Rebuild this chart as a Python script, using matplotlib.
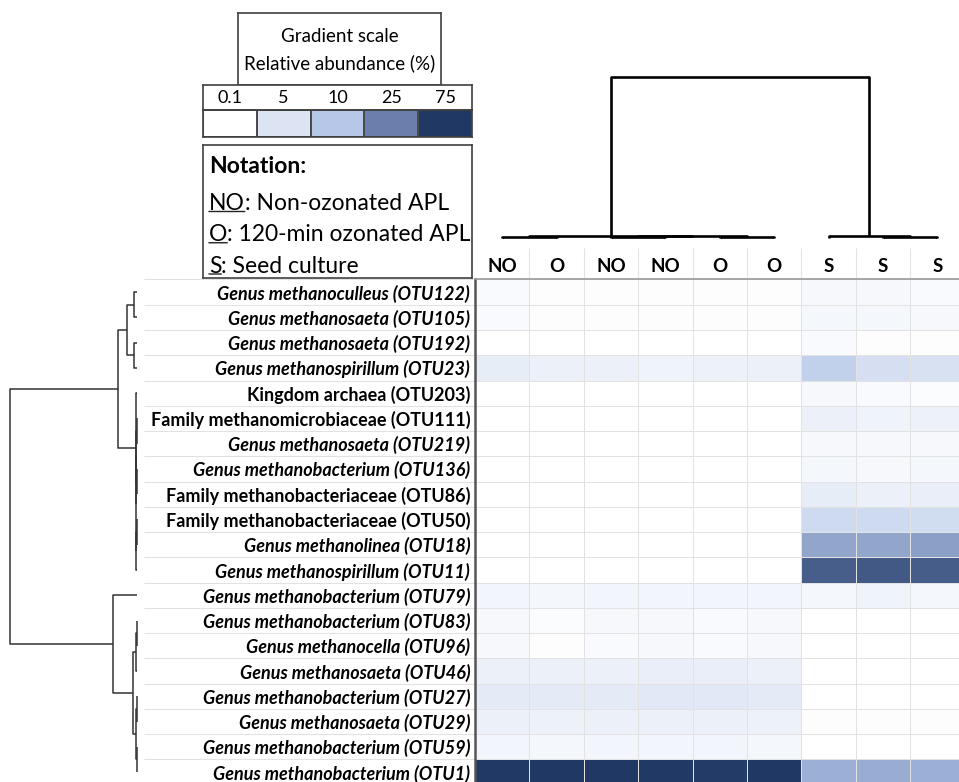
import numpy as np
import matplotlib
matplotlib.use("Agg")
import matplotlib.pyplot as plt
from matplotlib.colors import LinearSegmentedColormap, Normalize

plt.rcParams['font.family'] = ['Lato', 'DejaVu Sans']

# Samples (columns) and OTUs (rows), in dendrogram leaf order
samples = ["NO", "O", "NO", "NO", "O", "O", "S", "S", "S"]
otus = [
    "Genus methanoculleus (OTU122)",
    "Genus methanosaeta (OTU105)",
    "Genus methanosaeta (OTU192)",
    "Genus methanospirillum (OTU23)",
    "Kingdom archaea (OTU203)",
    "Family methanomicrobiaceae (OTU111)",
    "Genus methanosaeta (OTU219)",
    "Genus methanobacterium (OTU136)",
    "Family methanobacteriaceae (OTU86)",
    "Family methanobacteriaceae (OTU50)",
    "Genus methanolinea (OTU18)",
    "Genus methanospirillum (OTU11)",
    "Genus methanobacterium (OTU79)",
    "Genus methanobacterium (OTU83)",
    "Genus methanocella (OTU96)",
    "Genus methanosaeta (OTU46)",
    "Genus methanobacterium (OTU27)",
    "Genus methanosaeta (OTU29)",
    "Genus methanobacterium (OTU59)",
    "Genus methanobacterium (OTU1)",
]

# relative abundance (%) per OTU, columns follow `samples`
abundance = np.array([
    [1.0, 0.6, 0.6, 0.6, 0.6, 0.6, 1.4, 1.4, 1.2],
    [1.2, 0.4, 0.4, 0.4, 0.4, 0.4, 1.7, 1.6, 1.3],
    [0.2, 0.2, 0.2, 0.2, 0.2, 0.2, 1.2, 0.6, 0.6],
    [3.5, 3.0, 2.8, 2.3, 2.5, 3.0, 8.5, 5.8, 5.5],
    [0.1, 0.1, 0.1, 0.1, 0.1, 0.1, 1.5, 1.2, 0.8],
    [0.2, 0.1, 0.1, 0.1, 0.1, 0.2, 2.8, 2.3, 2.5],
    [0.1, 0.1, 0.1, 0.1, 0.1, 0.1, 1.5, 1.3, 1.4],
    [0.1, 0.1, 0.1, 0.1, 0.1, 0.1, 1.8, 1.4, 1.6],
    [0.1, 0.1, 0.1, 0.1, 0.1, 0.1, 3.5, 2.8, 3.2],
    [0.1, 0.1, 0.1, 0.1, 0.1, 0.1, 6.8, 6.6, 6.5],
    [0.1, 0.1, 0.1, 0.1, 0.1, 0.1, 17.0, 17.0, 18.0],
    [0.3, 0.2, 0.2, 0.2, 0.2, 0.3, 48.0, 52.0, 49.0],
    [2.0, 1.8, 2.0, 2.0, 2.0, 1.9, 1.8, 2.3, 1.8],
    [1.5, 0.9, 1.3, 1.3, 1.2, 1.3, 0.1, 0.1, 0.1],
    [1.3, 0.6, 1.2, 1.3, 1.2, 1.4, 0.1, 0.1, 0.1],
    [3.0, 2.8, 2.9, 3.2, 3.1, 2.9, 0.1, 0.1, 0.1],
    [3.8, 3.9, 3.9, 4.1, 4.0, 3.7, 0.3, 0.3, 0.3],
    [3.0, 2.7, 3.0, 2.9, 2.9, 2.7, 0.5, 0.4, 0.5],
    [2.0, 1.8, 2.0, 1.9, 1.9, 1.8, 0.2, 0.2, 0.2],
    [74.0, 75.0, 75.0, 74.0, 73.0, 76.0, 15.0, 15.5, 15.0],
])

# gradient scale of the legend
scale_vals = [0.1, 5, 10, 25, 75]
scale_labels = ["0.1", "5", "10", "25", "75"]
scale_colors = ["#ffffff", "#dae3f3", "#b4c6e7", "#6a7fab", "#203864"]

# cluster trees: (height, left, right), leaves are row/column indices
row_tree = (1.0,
            (0.15,
             (0.079, (0.024, 0, 1), (0.024, 2, 3)),
             (0.008, 4,
              (0.006,
               (0.004, (0.002, 5, 6), (0.003, 7, 8)),
               (0.005, (0.002, 9, 10), 11)))),
            (0.19,
             12,
             (0.031,
              (0.006, (0.002, 13, 14), 15),
              (0.004, (0.002, 16, 17), (0.003, 18, 19)))))
col_tree = (1.0,
            (0.012, (0.006, 0, 1), (0.01, (0.006, 2, 3), (0.004, 4, 5))),
            (0.015, 6, (0.008, 7, 8)))

notation = [("NO", ": Non-ozonated APL"),
            ("O", ": 120-min ozonated APL"),
            ("S", ": Seed culture")]

# colormap anchored at the scale values
vmin, vmax = scale_vals[0], scale_vals[-1]
nodes = [(v - vmin) / (vmax - vmin) for v in scale_vals]
cmap = LinearSegmentedColormap.from_list("abund", list(zip(nodes, scale_colors)))
norm = Normalize(vmin, vmax)

W, H = 959, 782
fig = plt.figure(figsize=(W / 100, H / 100), dpi=100)


def add_px_axes(x0, y0, x1, y1):
    return fig.add_axes([x0 / W, 1 - y1 / H, (x1 - x0) / W, (y1 - y0) / H])


def draw_tree(ax, node, orient, **kw):
    if isinstance(node, int):
        return float(node), 0.0
    h, a, b = node
    pa, ha = draw_tree(ax, a, orient, **kw)
    pb, hb = draw_tree(ax, b, orient, **kw)
    pos = [pa, pa, pb, pb]
    hts = [ha, h, h, hb]
    if orient == "top":
        ax.plot(pos, hts, **kw)
    else:
        ax.plot(hts, pos, **kw)
    return (pa + pb) / 2, h


n_rows, n_cols = abundance.shape
cell_w, cell_h = 54.4, 25.26
hx0, hy0 = 475, 279.5

# heatmap
ax = add_px_axes(hx0, hy0, hx0 + n_cols * cell_w, hy0 + n_rows * cell_h)
ax.pcolormesh(np.arange(n_cols + 1) - 0.5, np.arange(n_rows + 1) - 0.5, abundance,
              cmap=cmap, norm=norm, edgecolors="#e2e2e2", linewidth=0.7)
ax.set_xlim(-0.5, n_cols - 0.5)
ax.set_ylim(n_rows - 0.5, -0.5)
ax.xaxis.tick_top()
ax.set_xticks(range(n_cols))
ax.set_xticklabels(samples, fontsize=13.5, fontweight="bold")
ax.set_yticks(range(n_rows))
ax.set_yticklabels(otus, fontsize=13, fontweight="bold")
for lab in ax.get_yticklabels():
    if lab.get_text().startswith("Genus"):
        lab.set_fontstyle("italic")
ax.tick_params(length=0, pad=3.5)
ax.tick_params(axis="x", pad=3)
for side in ["right", "bottom"]:
    ax.spines[side].set_visible(False)
ax.spines["top"].set_color("#9a9a9a")
ax.spines["top"].set_linewidth(1.2)
ax.spines["left"].set_color("#555555")
ax.spines["left"].set_linewidth(1.8)

# separators under the row labels and between column headers
ax.hlines(np.arange(n_rows + 1) - 0.5, -0.676, 0, transform=ax.get_yaxis_transform(),
          color="#e2e2e2", lw=0.8, clip_on=False)
ax.vlines(np.arange(1, n_cols) - 0.5, 1, 1 + 31 / (n_rows * cell_h),
          transform=ax.get_xaxis_transform(), color="#e2e2e2", lw=0.8, clip_on=False)

# sample dendrogram
axt = add_px_axes(hx0, 75, hx0 + n_cols * cell_w, 240)
draw_tree(axt, col_tree, "top", color="black", lw=1.9, solid_capstyle="butt")
axt.set_xlim(-0.5, n_cols - 0.5)
axt.set_ylim(-2 / 161, 1 + 2 / 161)
axt.axis("off")

# OTU dendrogram
axl = add_px_axes(0, hy0, 145, hy0 + n_rows * cell_h)
draw_tree(axl, row_tree, "left", color="#333333", lw=1.1, solid_capstyle="butt")
axl.set_ylim(n_rows - 0.5, -0.5)
axl.set_xlim(137 / 127, (137 - 145) / 127)
axl.axis("off")

# gradient scale legend
axg = add_px_axes(238, 13, 441, 85)
axg.set_xticks([])
axg.set_yticks([])
axg.text(0.5, 0.68, "Gradient scale", ha="center", va="center", fontsize=13.5,
         transform=axg.transAxes)
axg.text(0.5, 0.30, "Relative abundance (%)", ha="center", va="center", fontsize=13.5,
         transform=axg.transAxes)

axn = add_px_axes(203, 85, 472, 110)
axn.set_xlim(-0.5, len(scale_vals) - 0.5)
axn.set_xticks([])
axn.set_yticks([])
for i, lab in enumerate(scale_labels):
    axn.text(i, 0.47, lab, ha="center", va="center", fontsize=13,
             transform=axn.get_xaxis_transform())

axs = add_px_axes(203, 110, 472, 137)
axs.pcolormesh(np.arange(len(scale_vals) + 1) - 0.5, [0, 1], np.array([scale_vals]),
               cmap=cmap, norm=norm, edgecolors="#4a4a4a", linewidth=1.2)
axs.set_xlim(-0.5, len(scale_vals) - 0.5)
axs.set_ylim(0, 1)
axs.set_xticks([])
axs.set_yticks([])

for a in (axg, axn, axs):
    for sp in a.spines.values():
        sp.set_color("#404040")
        sp.set_linewidth(1.2)

# notation box
axo = add_px_axes(203, 145, 472, 278)
axo.set_xticks([])
axo.set_yticks([])
for sp in axo.spines.values():
    sp.set_color("#404040")
    sp.set_linewidth(1.2)
axo.text(0.022, 0.835, "Notation:", fontsize=16.5, fontweight="bold", va="center",
         transform=axo.transAxes)
for k, (abbr, desc) in enumerate(notation):
    t = axo.text(0.022, 0.56 - k * 0.235, abbr, fontsize=16.5, va="center",
                 transform=axo.transAxes)
    axo.annotate(desc, xy=(1, 0.5), xycoords=t, ha="left", va="center", fontsize=16.5)
    axo.annotate("", xy=(0, 0.12), xytext=(1, 0.12), xycoords=t, textcoords=t,
                 arrowprops=dict(arrowstyle="-", color="#222222", lw=1.0,
                                 shrinkA=0, shrinkB=0))

fig.savefig("out.png", dpi=100)
